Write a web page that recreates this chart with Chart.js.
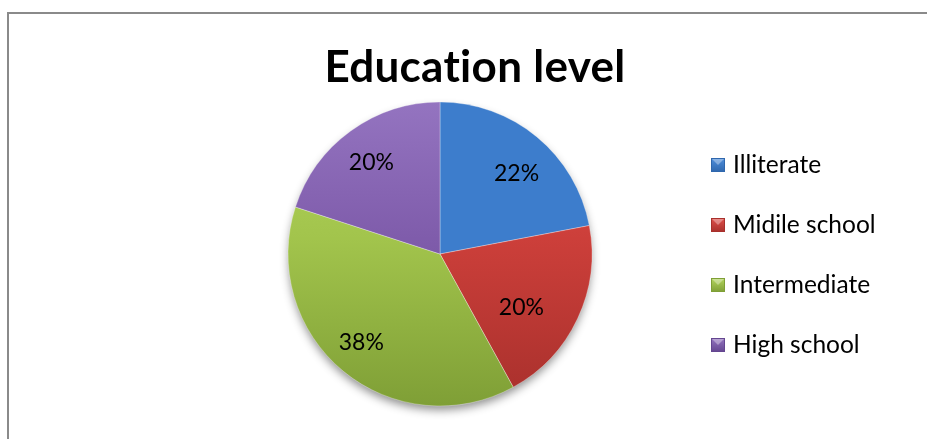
<!DOCTYPE html>
<html>
<head>
<meta charset="utf-8">
<title>Education level</title>
<script src="https://cdn.jsdelivr.net/npm/chart.js@4/dist/chart.umd.min.js"></script>
<style>
  html, body { margin: 0; padding: 0; background: #fff; }
  #wrap { width: 927px; height: 439px; position: relative; }
</style>
</head>
<body>
<div id="wrap"><canvas id="eduChart" width="927" height="439"></canvas></div>
<script>
const chartTitle = "Education level";
const categories = ["Illiterate", "Midile school", "Intermediate", "High school"];
const shares = [22, 20, 38, 20];

// light / base / dark shades for each slice
const sliceLight = ["#4f8fdc", "#e0504b", "#b4d65e", "#9474c0"];
const sliceBase = ["#3d7dcc", "#cc3f3a", "#a2c44c", "#7f5cab"];
const sliceDark = ["#2f67ad", "#a8302c", "#7f9f36", "#644690"];
// where each percentage sits: fraction of the radius, and a small turn (degrees) off the bisector
const labelReach = [0.73, 0.64, 0.78, 0.75];
const labelTurn = [4, 8, 2, -1];

const FONT = "Lato, 'Open Sans', 'Liberation Sans', sans-serif";

function sliceFill(context) {
  const i = context.dataIndex;
  const chart = context.chart;
  const arc = chart.getDatasetMeta(0).data[0];
  if (!arc || !arc.outerRadius) return sliceBase[i];
  const g = chart.ctx.createLinearGradient(0, arc.y - arc.outerRadius, 0, arc.y + arc.outerRadius);
  g.addColorStop(0, sliceLight[i]);
  g.addColorStop(0.45, sliceBase[i]);
  g.addColorStop(1, sliceDark[i]);
  return g;
}

// outer frame, title, soft shadow under the pie
const framePlugin = {
  id: 'frame',
  beforeDraw(chart) {
    const ctx = chart.ctx;
    ctx.save();
    ctx.fillStyle = '#ffffff';
    ctx.fillRect(0, 0, chart.width, chart.height);
    ctx.strokeStyle = '#8a8a8a';
    ctx.lineWidth = 2;
    ctx.strokeRect(8, 13, chart.width + 20, chart.height + 20);
    ctx.fillStyle = '#000';
    ctx.font = "bold 44px " + FONT;
    ctx.letterSpacing = '0.3px'; // also keeps "ti" from joining
    ctx.textAlign = 'center';
    ctx.textBaseline = 'alphabetic';
    ctx.fillText(chartTitle, 475, 82);
    ctx.restore();
  },
  beforeDatasetsDraw(chart) {
    const arc = chart.getDatasetMeta(0).data[0];
    if (!arc) return;
    const ctx = chart.ctx;
    ctx.save();
    ctx.shadowColor = 'rgba(0,0,0,0.45)';
    ctx.shadowBlur = 10;
    ctx.shadowOffsetY = 5;
    ctx.fillStyle = '#ffffff';
    ctx.beginPath();
    ctx.arc(arc.x, arc.y, arc.outerRadius - 1, 0, Math.PI * 2);
    ctx.fill();
    ctx.restore();
  }
};

// percentage labels inside the slices
const sliceLabels = {
  id: 'sliceLabels',
  afterDatasetsDraw(chart) {
    const ctx = chart.ctx;
    const meta = chart.getDatasetMeta(0);
    ctx.save();
    ctx.font = "23px " + FONT;
    ctx.fillStyle = '#000';
    ctx.textAlign = 'center';
    ctx.textBaseline = 'middle';
    meta.data.forEach((arc, i) => {
      const mid = (arc.startAngle + arc.endAngle) / 2 + labelTurn[i] * Math.PI / 180;
      const r = arc.outerRadius * labelReach[i];
      ctx.fillText(shares[i] + "%", arc.x + Math.cos(mid) * r, arc.y + Math.sin(mid) * r);
    });
    ctx.restore();
  }
};

// legend on the right with small shaded squares
const sideLegend = {
  id: 'sideLegend',
  afterDraw(chart) {
    const ctx = chart.ctx;
    ctx.save();
    ctx.font = "24.5px " + FONT;
    ctx.textBaseline = 'alphabetic';
    ctx.textAlign = 'left';
    categories.forEach((name, i) => {
      const base = 173 + i * 60;
      const bx = 711, by = base - 15, s = 14;
      const g = ctx.createLinearGradient(0, by, 0, by + s);
      g.addColorStop(0, sliceLight[i]);
      g.addColorStop(1, sliceDark[i]);
      ctx.fillStyle = g;
      ctx.fillRect(bx, by, s, s);
      ctx.fillStyle = 'rgba(255,255,255,0.35)';
      ctx.beginPath();
      ctx.moveTo(bx, by);
      ctx.lineTo(bx + s, by);
      ctx.lineTo(bx + s / 2, by + s / 2);
      ctx.closePath();
      ctx.fill();
      ctx.strokeStyle = sliceDark[i];
      ctx.lineWidth = 1;
      ctx.strokeRect(bx + 0.5, by + 0.5, s - 1, s - 1);
      ctx.fillStyle = '#000';
      ctx.fillText(name, 733, base);
    });
    ctx.restore();
  }
};

new Chart(document.getElementById('eduChart'), {
  type: 'pie',
  data: {
    labels: categories,
    datasets: [{
      data: shares,
      backgroundColor: sliceFill,
      borderColor: 'rgba(255,255,255,0.3)',
      borderWidth: 1,
      hoverOffset: 0,
      offset: 0
    }]
  },
  options: {
    responsive: false,
    animation: false,
    radius: 152,
    layout: { padding: { left: 288, right: 335, top: 102, bottom: 33 } },
    plugins: {
      legend: { display: false },
      title: { display: false },
      tooltip: { enabled: false }
    }
  },
  plugins: [framePlugin, sliceLabels, sideLegend]
});
</script>
</body>
</html>
